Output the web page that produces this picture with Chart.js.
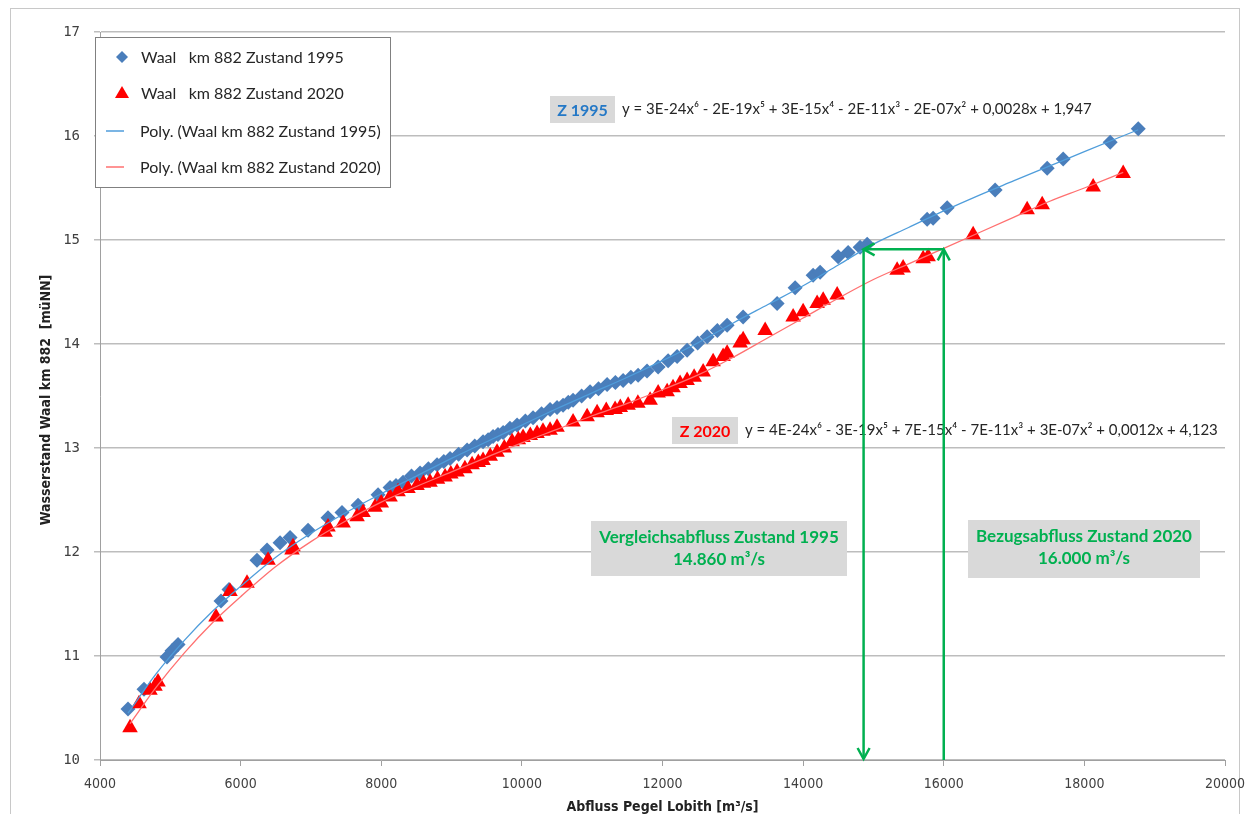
<!DOCTYPE html>
<html><head><meta charset="utf-8">
<script src="https://cdn.jsdelivr.net/npm/chart.js@4.4.1/dist/chart.umd.min.js"></script>
<style>html,body{margin:0;padding:0;background:#fff}#wrap{position:relative;width:1247px;height:814px}</style>
</head><body><div id="wrap"><canvas id="c" width="1247" height="814"></canvas></div>
<script>
// ---- data ----
const q1995 = [4398,4626,4953,5024,5110,5721,5835,6233,6376,6561,6703,6959,7243,7442,7670,7955,8125,8210,8310,8430,8552,8670,8794,8890,8979,9100,9221,9330,9448,9520,9590,9660,9733,9830,9932,10050,10159,10280,10401,10500,10586,10660,10728,10850,10970,11090,11212,11330,11440,11550,11653,11780,11938,12080,12208,12350,12500,12635,12780,12919,13147,13630,13886,14142,14242,14498,14640,14811,14911,15764,15849,16049,16731,17471,17699,18367,18766];
const h1995 = [10.49,10.68,10.99,11.05,11.11,11.53,11.64,11.92,12.02,12.09,12.14,12.21,12.33,12.38,12.45,12.55,12.62,12.64,12.67,12.73,12.76,12.80,12.84,12.87,12.90,12.94,12.98,13.02,13.06,13.08,13.11,13.13,13.15,13.19,13.22,13.26,13.29,13.33,13.37,13.39,13.41,13.44,13.46,13.50,13.54,13.57,13.61,13.63,13.65,13.68,13.70,13.74,13.78,13.84,13.88,13.94,14.01,14.07,14.13,14.18,14.26,14.39,14.54,14.66,14.69,14.84,14.88,14.93,14.96,15.20,15.21,15.31,15.48,15.69,15.78,15.94,16.07];
const q2020 = [4427,4555,4711,4782,4825,5650,5849,6091,6390,6731,6745,7201,7243,7457,7656,7741,7912,8000,8125,8239,8380,8509,8600,8694,8800,8908,8990,9078,9190,9292,9380,9448,9550,9647,9750,9861,9950,10017,10120,10216,10300,10401,10500,10728,10928,11070,11200,11326,11400,11511,11650,11824,11938,12066,12150,12250,12350,12450,12578,12720,12862,12919,13104,13147,13460,13858,14000,14199,14285,14484,15337,15422,15707,15778,16418,17186,17400,18125,18552];
const h2020 = [10.31,10.54,10.67,10.71,10.75,11.375,11.62,11.70,11.92,12.02,12.05,12.19,12.24,12.28,12.34,12.38,12.43,12.47,12.53,12.58,12.61,12.64,12.66,12.67,12.70,12.72,12.75,12.77,12.80,12.84,12.86,12.88,12.92,12.96,13.00,13.06,13.08,13.10,13.12,13.14,13.16,13.17,13.20,13.25,13.30,13.34,13.36,13.37,13.39,13.41,13.43,13.46,13.53,13.54,13.58,13.62,13.65,13.68,13.73,13.83,13.88,13.91,14.01,14.04,14.13,14.26,14.31,14.39,14.42,14.47,14.71,14.73,14.82,14.84,15.05,15.29,15.34,15.51,15.64];
const trendQ1995 = [4398,4800,5200,5600,6000,6500,7000,7500,8000,8500,9000,9500,10000,10500,11000,11500,12000,12500,13000,13500,14000,14500,15000,15500,16000,16500,17000,17500,18000,18766];
const trendH1995 = [10.45,10.83,11.15,11.43,11.67,11.95,12.18,12.38,12.56,12.73,12.90,13.06,13.22,13.38,13.53,13.68,13.84,14.01,14.20,14.38,14.56,14.76,14.96,15.12,15.28,15.43,15.57,15.71,15.85,16.06];
const trendQ2020 = [4427,4800,5200,5600,6000,6500,7000,7500,8000,8500,9000,9500,10000,10500,11000,11500,12000,12500,13000,13500,14000,14500,15000,15500,16000,16500,17000,17500,18000,18552];
const trendH2020 = [10.35,10.70,11.03,11.32,11.57,11.86,12.10,12.30,12.48,12.63,12.77,12.91,13.05,13.18,13.31,13.43,13.56,13.70,13.87,14.06,14.25,14.44,14.62,14.77,14.92,15.07,15.22,15.37,15.50,15.65];
const xTickValues = [4000,6000,8000,10000,12000,14000,16000,18000,20000];
const yTickValues = [10,11,12,13,14,15,16,17];
const seriesNames = ['Waal   km 882 Zustand 1995','Waal   km 882 Zustand 2020','Poly. (Waal km 882 Zustand 1995)','Poly. (Waal km 882 Zustand 2020)'];
const eqLabels = ['Z 1995','Z 2020'];
const eqTexts = ['y = 3E-24x⁶ - 2E-19x⁵ + 3E-15x⁴ - 2E-11x³ - 2E-07x² + 0,0028x + 1,947',
                 'y = 4E-24x⁶ - 3E-19x⁵ + 7E-15x⁴ - 7E-11x³ + 3E-07x² + 0,0012x + 4,123'];
const flowLabels = [['Vergleichsabfluss Zustand 1995','14.860 m³/s'],['Bezugsabfluss Zustand 2020','16.000 m³/s']];
const compareFlows = [14860, 16000];
const compareLevel = 14.91;
const xTitle = 'Abfluss Pegel Lobith [m³/s]';
const yTitle = 'Wasserstand Waal km 882  [müNN]';

const pts = (xs, ys) => xs.map((x, i) => ({x, y: ys[i]}));
const BLUE = '#4a7ebb', RED = '#ff0000', LBLUE = '#4f9ddb', LRED = '#ff7070', GREEN = '#00b050';
const NARROW = '"Liberation Sans Narrow","DejaVu Sans Condensed",Arial';

function arrowHead(ctx, x, y, dir) {
  const L = 11, W = 6;
  ctx.beginPath();
  if (dir === 'up') { ctx.moveTo(x - W, y + L); ctx.lineTo(x, y); ctx.lineTo(x + W, y + L); }
  if (dir === 'down') { ctx.moveTo(x - W, y - L); ctx.lineTo(x, y); ctx.lineTo(x + W, y - L); }
  if (dir === 'left') { ctx.moveTo(x + L, y - W); ctx.lineTo(x, y); ctx.lineTo(x + L, y + W); }
  ctx.stroke();
}

const decor = {
  id: 'decor',
  beforeDraw(chart) {
    const ctx = chart.ctx;
    ctx.save();
    ctx.fillStyle = '#fff'; ctx.fillRect(0, 0, chart.width, chart.height);
    ctx.strokeStyle = '#c8c8c8'; ctx.lineWidth = 1;
    ctx.strokeRect(10.5, 8.5, 1229, 830);
    ctx.restore();
  },
  afterDatasetsDraw(chart) {
    const ctx = chart.ctx, xs = chart.scales.x, ys = chart.scales.y, ca = chart.chartArea;
    ctx.save();
    // axis titles
    ctx.fillStyle = '#222';
    ctx.font = 'bold 14px ' + NARROW;
    ctx.textAlign = 'center'; ctx.textBaseline = 'middle';
    ctx.fillText(xTitle, (ca.left + ca.right) / 2, 807);
    ctx.save(); ctx.translate(46, (ca.top + ca.bottom) / 2 + 4); ctx.rotate(-Math.PI / 2);
    ctx.fillText(yTitle, 0, 0); ctx.restore();

    // equation labels
    const eqPos = [[550, 96, 65, 27, '#2478c6'], [672, 417, 66, 27, '#ff0000']];
    eqPos.forEach((p, i) => {
      ctx.fillStyle = '#d9d9d9'; ctx.fillRect(p[0], p[1], p[2], p[3]);
      ctx.fillStyle = p[4]; ctx.font = 'bold 16px Lato'; ctx.textAlign = 'center'; ctx.textBaseline = 'middle';
      ctx.fillText(eqLabels[i], p[0] + p[2] / 2, p[1] + p[3] / 2 + 1);
      ctx.fillStyle = '#262626'; ctx.font = '15px Lato'; ctx.textAlign = 'left';
      ctx.fillText(eqTexts[i], p[0] + p[2] + 7, p[1] + p[3] / 2);
    });

    // flow labels
    const boxPos = [[591, 521, 256, 55], [968, 520, 232, 58]];
    boxPos.forEach((b, i) => {
      ctx.fillStyle = '#d9d9d9'; ctx.fillRect(b[0], b[1], b[2], b[3]);
      ctx.fillStyle = GREEN; ctx.font = 'bold 17px Lato'; ctx.textAlign = 'center'; ctx.textBaseline = 'middle';
      ctx.fillText(flowLabels[i][0], b[0] + b[2] / 2, b[1] + 17);
      ctx.fillText(flowLabels[i][1], b[0] + b[2] / 2, b[1] + 39);
    });

    // comparison arrows
    const xa = xs.getPixelForValue(compareFlows[0]), xb = xs.getPixelForValue(compareFlows[1]);
    const yl = ys.getPixelForValue(compareLevel), y0 = ys.getPixelForValue(ys.min);
    ctx.strokeStyle = GREEN; ctx.lineWidth = 2.5; ctx.lineCap = 'butt';
    ctx.beginPath(); ctx.moveTo(xb, y0); ctx.lineTo(xb, yl); ctx.stroke();
    ctx.beginPath(); ctx.moveTo(xb, yl); ctx.lineTo(xa, yl); ctx.stroke();
    ctx.beginPath(); ctx.moveTo(xa, yl); ctx.lineTo(xa, y0 - 1); ctx.stroke();
    arrowHead(ctx, xb, yl, 'up'); arrowHead(ctx, xa, yl, 'left'); arrowHead(ctx, xa, y0 - 1, 'down');

    // legend
    ctx.fillStyle = '#fff'; ctx.fillRect(95.5, 37.5, 295, 150);
    ctx.strokeStyle = '#808080'; ctx.lineWidth = 1; ctx.strokeRect(95.5, 37.5, 295, 150);
    const ly = [57, 93, 131, 167];
    ctx.font = '16px Lato'; ctx.fillStyle = '#262626'; ctx.textAlign = 'left'; ctx.textBaseline = 'middle';
    chart.data.datasets.forEach((ds, i) => {
      const y = ly[i];
      if (i === 0) {
        ctx.fillStyle = BLUE; ctx.beginPath();
        ctx.moveTo(122, y - 6); ctx.lineTo(128, y); ctx.lineTo(122, y + 6); ctx.lineTo(116, y); ctx.closePath(); ctx.fill();
      } else if (i === 1) {
        ctx.fillStyle = RED; ctx.beginPath();
        ctx.moveTo(122, y - 7); ctx.lineTo(129, y + 5); ctx.lineTo(115, y + 5); ctx.closePath(); ctx.fill();
      } else {
        ctx.strokeStyle = ds.borderColor; ctx.lineWidth = 1.5; ctx.beginPath();
        ctx.moveTo(106, y); ctx.lineTo(124, y); ctx.stroke();
      }
      ctx.fillStyle = '#262626';
      ctx.fillText(ds.label, i < 2 ? 141 : 140, y + 1);
    });
    ctx.restore();
  }
};

new Chart(document.getElementById('c'), {
  type: 'scatter',
  data: {
    datasets: [
      { label: seriesNames[0], data: pts(q1995, h1995), pointStyle: 'rectRot', pointRadius: 7.5, backgroundColor: BLUE, borderColor: BLUE, borderWidth: 0, order: 3 },
      { label: seriesNames[1], data: pts(q2020, h2020), pointStyle: 'triangle', pointRadius: 9, backgroundColor: RED, borderColor: RED, borderWidth: 0, order: 2 },
      { label: seriesNames[2], type: 'line', data: pts(trendQ1995, trendH1995), borderColor: LBLUE, borderWidth: 1.3, pointRadius: 0, fill: false, cubicInterpolationMode: 'monotone', order: 1 },
      { label: seriesNames[3], type: 'line', data: pts(trendQ2020, trendH2020), borderColor: LRED, borderWidth: 1.3, pointRadius: 0, fill: false, cubicInterpolationMode: 'monotone', order: 0 }
    ]
  },
  options: {
    responsive: false, animation: false, devicePixelRatio: 1,
    layout: { padding: { top: 32, right: 22, left: 0, bottom: 0 } },
    plugins: { legend: { display: false }, tooltip: { enabled: false } },
    scales: {
      x: {
        type: 'linear', min: 4000, max: 20000,
        afterBuildTicks: s => { s.ticks = xTickValues.map(v => ({value: v})); },
        afterFit: s => { s.height = 54; s.paddingLeft = 0; s.paddingRight = 0; },
        ticks: { callback: v => String(v), font: { family: NARROW, size: 14 }, color: '#404040', padding: 10, maxRotation: 0 },
        grid: { drawOnChartArea: false, drawTicks: true, tickLength: 6, color: '#a0a0a0', lineWidth: 1 },
        border: { color: '#a0a0a0', width: 1 }
      },
      y: {
        min: 10, max: 17,
        afterBuildTicks: s => { s.ticks = yTickValues.map(v => ({value: v})); },
        afterFit: s => { s.width = 100; s.paddingTop = 0; s.paddingBottom = 0; },
        ticks: { callback: v => String(v), font: { family: '"DejaVu Sans Mono"', size: 14 }, color: '#404040', padding: 14 },
        grid: { color: '#bdbdbd', lineWidth: 1.5, tickLength: 6 },
        border: { color: '#a0a0a0', width: 1 }
      }
    }
  },
  plugins: [decor]
});
</script></body></html>
